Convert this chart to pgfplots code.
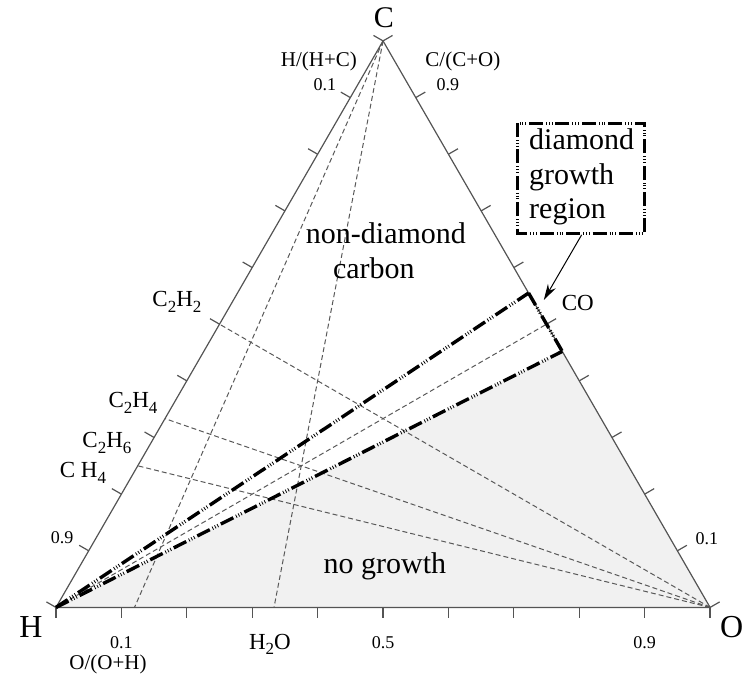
\documentclass[border=0pt]{standalone}
\usepackage{pgfplots}
\pgfplotsset{compat=1.18}
\usepackage{fontspec}
\setmainfont{Liberation Serif}
\usetikzlibrary{arrows.meta}
\pgfplotsset{table/tern/.style={x expr=\thisrow{O}+0.5*\thisrow{C}, y expr=0.8660254*\thisrow{C}}}
\definecolor{edgec}{gray}{0.33}
\definecolor{thinc}{gray}{0.35}
\definecolor{shade}{gray}{0.945}
\newcommand{\sub}[1]{\raisebox{-0.5ex}{\fontsize{8.5}{8.5}\selectfont #1}}
\begin{document}
\begin{tikzpicture}
\begin{axis}[scale only axis, width=375pt, height=338pt,
  xmin=-0.0856, xmax=1.0607, ymin=-0.1045, ymax=0.9286,
  hide axis, clip=false,
  thindash/.style={color=thinc, line width=0.5pt, dash pattern=on 2.5pt off 1.5pt},
  heavy/.style={black, line width=1.7pt, dash pattern=on 7pt off 1.5pt on 0.4pt off 1pt on 0.4pt off 1pt on 0.4pt off 1.5pt}]

% no-growth region
\addplot[fill=shade, draw=none] table[tern] {
C O
0 0
0.452 0.548
0 1
0 0
};

% dashed composition lines from C
\addplot[thindash] table[tern] {
C O
1 0
0 0.12
};
\addplot[thindash] table[tern] {
C O
1 0
0 0.3333
};
% dashed lines from O to hydrocarbons
\addplot[thindash] table[tern] {
C O
0 1
0.5 0
};
\addplot[thindash] table[tern] {
C O
0 1
0.3333 0
};
\addplot[thindash] table[tern] {
C O
0 1
0.25 0
};
% H to CO
\addplot[thindash] table[tern] {
C O
0 0
0.5 0.5
};

% triangle
\addplot[edgec, line width=0.6pt, line join=miter] table[tern] {
C O
0 0
1 0
0 1
0 0
};

% ticks
\pgfplotsinvokeforeach{0,...,10}{
  \draw[edgec, line width=0.6pt] (axis cs:0.1*#1,0) -- ++(270:5.5pt);
  \draw[edgec, line width=0.6pt] (axis cs:0.05*#1,0.08660254*#1) -- ++(150:5.5pt);
  \draw[edgec, line width=0.6pt] (axis cs:1-0.05*#1,0.08660254*#1) -- ++(30:5.5pt);
}

% diamond growth region boundaries
\addplot[heavy] table[tern] {
C O
0 0
0.555 0.445
};
\addplot[heavy] table[tern] {
C O
0 0
0.452 0.548
};
\addplot[heavy] table[tern] {
C O
0.555 0.445
0.452 0.548
};

% labels
\node[font=\fontsize{15}{15}\selectfont] at (axis cs:0.5013,0.9011) {C};
\node[font=\fontsize{16}{16}\selectfont] at (axis cs:-0.0382,-0.0297) {H};
\node[font=\fontsize{16}{16}\selectfont] at (axis cs:1.0332,-0.0297) {O};

\node[font=\fontsize{10.5}{10.5}\selectfont] at (axis cs:0.4020,0.8353) {H/(H+C)};
\node[font=\fontsize{9}{9}\selectfont] at (axis cs:0.4111,0.7986) {0.1};
\node[font=\fontsize{10.5}{10.5}\selectfont] at (axis cs:0.6220,0.8353) {C/(C+O)};
\node[font=\fontsize{9}{9}\selectfont] at (axis cs:0.5991,0.7986) {0.9};
\node[font=\fontsize{9}{9}\selectfont] at (axis cs:0.0092,0.1063) {0.9};
\node[font=\fontsize{9}{9}\selectfont] at (axis cs:0.9950,0.1048) {0.1};

\node[font=\fontsize{9}{9}\selectfont] at (axis cs:0.1,-0.0541) {0.1};
\node[font=\fontsize{9}{9}\selectfont] at (axis cs:0.5,-0.0541) {0.5};
\node[font=\fontsize{9}{9}\selectfont] at (axis cs:0.9,-0.0541) {0.9};
\node[font=\fontsize{10.5}{10.5}\selectfont] at (axis cs:0.0795,-0.0877) {O/(O+H)};
\node[font=\fontsize{11.5}{11.5}\selectfont] at (axis cs:0.327,-0.0570) {H\sub{2}O};

\node[font=\fontsize{11.5}{11.5}\selectfont] at (axis cs:0.1849,0.4669) {C\sub{2}H\sub{2}};
\node[font=\fontsize{11.5}{11.5}\selectfont] at (axis cs:0.1177,0.3127) {C\sub{2}H\sub{4}};
\node[font=\fontsize{11.5}{11.5}\selectfont] at (axis cs:0.0779,0.2516) {C\sub{2}H\sub{6}};
\node[font=\fontsize{11.5}{11.5}\selectfont] at (axis cs:0.0413,0.2057) {C H\sub{4}};
\node[font=\fontsize{11.5}{11.5}\selectfont] at (axis cs:0.7978,0.4655) {CO};

\node[font=\fontsize{15}{15}\selectfont] at (axis cs:0.5044,0.5725) {non-diamond};
\node[font=\fontsize{15}{15}\selectfont] at (axis cs:0.4860,0.5190) {carbon};
\node[font=\fontsize{15}{15}\selectfont] at (axis cs:0.5028,0.0621) {no growth};

% diamond growth region box
\draw[black, line width=1.5pt, dash pattern=on 7pt off 1.5pt on 0.4pt off 1pt on 0.4pt off 1pt on 0.4pt off 1.5pt]
  (axis cs:0.7061,0.7405) rectangle (axis cs:0.9002,0.5724);
\node[font=\fontsize{15}{17.25}\selectfont, align=left, anchor=west, inner sep=0pt] at (axis cs:0.7229,0.6580) {diamond\\growth\\region};
\draw[black, line width=0.5pt, -{Stealth[length=8pt,width=4.5pt]}] (axis cs:0.8036,0.5695) -- (axis cs:0.7458,0.4700);

\path (axis cs:-0.0856,-0.1045) rectangle (axis cs:1.0607,0.9286);
\end{axis}
\end{tikzpicture}
\end{document}
